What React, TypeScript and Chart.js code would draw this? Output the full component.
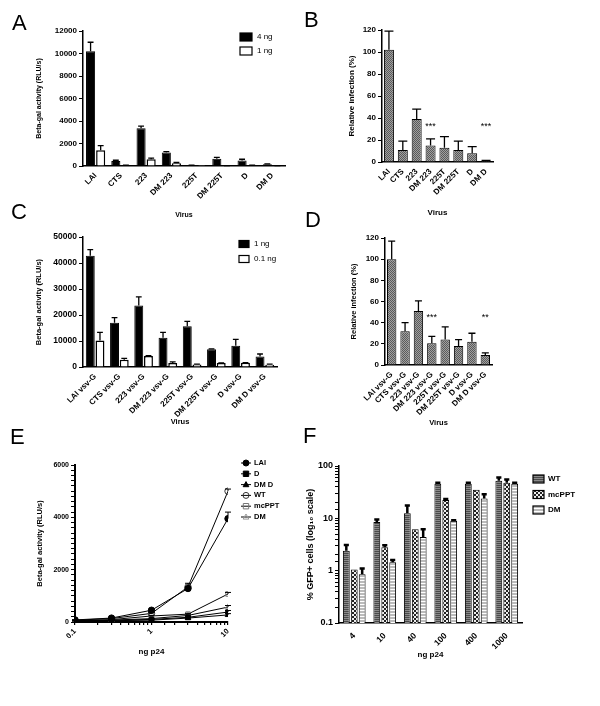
import React, { useEffect, useRef } from 'react';
import { Chart, registerables } from 'chart.js';

Chart.register(...registerables);

const FF = '"Liberation Sans", Arial, Helvetica, sans-serif';

// ---------------- DATA ----------------
const virusLabels = ['LAI', 'CTS', '223', 'DM 223', '225T', 'DM 225T', 'D', 'DM D'];
const virusVsvLabels = ['LAI vsv-G', 'CTS vsv-G', '223 vsv-G', 'DM 223 vsv-G', '225T vsv-G', 'DM 225T vsv-G', 'D vsv-G', 'DM D vsv-G'];

// Panel A: Beta-gal activity, 4 ng / 1 ng
const aSeries4ng = [10200, 450, 3350, 1200, 50, 650, 500, 150];
const aErr4ng = [800, 60, 200, 80, 20, 120, 100, 40];
const aSeries1ng = [1400, 50, 600, 250, 5, 20, 50, 30];
const aErr1ng = [420, 20, 100, 60, 0, 10, 20, 10];
const aYAxis = [0, 12000, 2000];

// Panel B: relative infection
const bRelative = [102, 11, 39, 15, 13, 11, 8, 1];
const bRelErr = [17, 8, 9, 6, 10, 8, 6, 0.5];
const bStars = ['', '', '', '***', '', '', '', '***'];
const bStarLevel = 32;
const bYAxis = [0, 120, 20];

// Panel C: Beta-gal activity vsv-G, 1 ng / 0.1 ng
const cSeries1ng = [42800, 17000, 23700, 11300, 15700, 6800, 8200, 4000];
const cErr1ng = [2400, 2000, 3300, 2000, 1900, 200, 2400, 1000];
const cSeries01ng = [10200, 2800, 4200, 1500, 1000, 1500, 1600, 900];
const cErr01ng = [3100, 500, 200, 500, 100, 100, 100, 200];
const cYAxis = [0, 50000, 10000];

// Panel D: relative infection vsv-G
const dRelative = [100, 32, 51, 20.5, 24, 18, 22, 9.5];
const dRelErr = [17, 8, 9.5, 6.5, 12, 6, 8, 2];
const dStars = ['', '', '', '***', '', '', '', '**'];
const dStarLevel = 45;
const dYAxis = [0, 120, 20];

// Panel E: dose response (ng p24)
const eDoses = [0.1, 0.3, 1, 3, 10];
const eLAI = [80, 150, 450, 1280, 3950];
const eLAIErr = [10, 15, 40, 60, 250];
const eD = [40, 60, 100, 180, 380];
const eDErr = [5, 5, 10, 20, 60];
const eDMD = [30, 50, 70, 150, 270];
const eDMDErr = [5, 5, 10, 15, 50];
const eWT = [70, 130, 330, 1340, 5000];
const eWTErr = [10, 10, 30, 140, 80];
const eMcPPT = [50, 90, 230, 300, 1070];
const eMcPPTErr = [5, 10, 20, 30, 60];
const eDM = [40, 70, 130, 250, 570];
const eDMErr = [5, 5, 10, 20, 60];
const eYAxis = [0, 6000, 200, 2000];
const eXAxis = [0.1, 10];

// Panel F: % GFP+ cells
const fDoseLabels = ['4', '10', '40', '100', '400', '1000'];
const fWT = [2.4, 8.5, 12.5, 46, 46, 52];
const fWTErr = [0.7, 1.0, 5, 2, 2, 8];
const fMcPPT = [1.05, 2.8, 6.2, 22.5, 35, 48];
const fMcPPTErr = [0, 0.25, 0, 1, 0, 7];
const fDM = [0.85, 1.45, 4.4, 9, 24, 46];
const fDMErr = [0.25, 0.15, 1.8, 0.2, 5, 2];
const fYAxis = [0.1, 100];

// ---------------- HELPERS ----------------
type Geo = { left: number; top: number; w: number; h: number; l: number; r: number; t: number; b: number; yTitleX: number; xTitleY: number };

const geoA: Geo = { left: 0, top: 0, w: 300, h: 230, l: 83, r: 285, t: 31, b: 166, yTitleX: 39, xTitleY: 215 };
const geoB: Geo = { left: 300, top: 0, w: 300, h: 230, l: 382, r: 493, t: 30, b: 162, yTitleX: 352, xTitleY: 213 };
const geoC: Geo = { left: 0, top: 230, w: 300, h: 210, l: 83, r: 277, t: 237, b: 367, yTitleX: 39, xTitleY: 422 };
const geoD: Geo = { left: 300, top: 230, w: 300, h: 210, l: 385, r: 492, t: 238, b: 365, yTitleX: 354, xTitleY: 423 };
const geoE: Geo = { left: 0, top: 440, w: 300, h: 266, l: 75, r: 228, t: 465, b: 622, yTitleX: 40, xTitleY: 652 };
const geoF: Geo = { left: 300, top: 440, w: 300, h: 266, l: 339, r: 522, t: 466, b: 623, yTitleX: 311, xTitleY: 655 };

function makePattern(rows: string[][]): any {
  const h = rows.length;
  const w = rows[0].length;
  const c = document.createElement('canvas');
  c.width = w;
  c.height = h;
  const g = c.getContext('2d')!;
  rows.forEach((row, y) => row.forEach((col, x) => { g.fillStyle = col; g.fillRect(x, y, 1, 1); }));
  return g.createPattern(c, 'repeat');
}

function font(size: number, bold = true) {
  return { family: FF, size, weight: bold ? 'bold' : 'normal' } as any;
}

function isPow10(v: number) {
  const l = Math.log10(v);
  return Math.abs(l - Math.round(l)) < 1e-6;
}

function baseOptions(g: Geo, scales: any) {
  return {
    responsive: false,
    animation: false,
    layout: { padding: { left: 0, top: g.t - g.top, right: g.left + g.w - g.r, bottom: 0 } },
    plugins: { legend: { display: false }, tooltip: { enabled: false } },
    scales,
  };
}

function xAxis(g: Geo, title: string, tickSize: number, titleSize: number, extra: any = {}, ticksExtra: any = {}, borderW = 1.5) {
  return {
    grid: { display: false },
    border: { display: true, color: '#000', width: borderW },
    ticks: { color: '#000', font: font(tickSize), minRotation: 45, maxRotation: 45, autoSkip: false, padding: -3, ...ticksExtra },
    title: {
      display: true, text: title, color: '#000', font: font(titleSize),
      padding: { top: 0, bottom: g.top + g.h - g.xTitleY - titleSize * 0.6 },
    },
    afterFit: (s: any) => { s.height = g.top + g.h - g.b; },
    ...extra,
  };
}

function yAxis(g: Geo, title: string, tickSize: number, titleSize: number, extra: any = {}, ticksExtra: any = {}, borderW = 1.5) {
  return {
    grid: { display: true, drawOnChartArea: false, drawTicks: true, tickLength: 4, color: '#000', lineWidth: 1 },
    border: { display: true, color: '#000', width: borderW },
    ticks: { color: '#000', font: font(tickSize), padding: 2, autoSkip: false, ...ticksExtra },
    title: {
      display: true, text: title, color: '#000', font: font(titleSize),
      padding: { top: g.yTitleX - g.left - titleSize * 0.6, bottom: 0 },
    },
    afterFit: (s: any) => { s.width = g.l - g.left; },
    ...extra,
  };
}

const errorBarPlugin = {
  id: 'errorBars',
  afterDatasetsDraw(chart: any) {
    const ctx = chart.ctx;
    chart.data.datasets.forEach((ds: any, di: number) => {
      if (!ds.errUp) return;
      const meta = chart.getDatasetMeta(di);
      const yScale = chart.scales[meta.yAxisID];
      ctx.save();
      ctx.strokeStyle = '#000';
      ctx.lineWidth = ds.errWidth || 1.3;
      meta.data.forEach((el: any, i: number) => {
        const e = ds.errUp[i];
        if (!e) return;
        const raw = ds.data[i];
        const v = typeof raw === 'number' ? raw : raw.y;
        const y0 = yScale.getPixelForValue(v);
        const y1 = yScale.getPixelForValue(v + e);
        const x = el.x;
        const cw = el.width ? el.width * (ds.capRatio || 0.7) : (ds.capPx || 6);
        ctx.beginPath();
        ctx.moveTo(x, y0);
        ctx.lineTo(x, y1);
        ctx.moveTo(x - cw / 2, y1);
        ctx.lineTo(x + cw / 2, y1);
        ctx.stroke();
      });
      ctx.restore();
    });
  },
};

function starsPlugin(stars: string[], level: number) {
  return {
    id: 'stars',
    afterDatasetsDraw(chart: any) {
      const ctx = chart.ctx;
      const meta = chart.getDatasetMeta(0);
      const y = chart.scales.y.getPixelForValue(level);
      ctx.save();
      ctx.font = `9px ${FF}`;
      ctx.fillStyle = '#000';
      ctx.textAlign = 'center';
      ctx.textBaseline = 'middle';
      stars.forEach((s, i) => { if (s) ctx.fillText(s, meta.data[i].x, y); });
      ctx.restore();
    },
  };
}

function drawMarker(ctx: CanvasRenderingContext2D, style: string, x: number, y: number, r: number, fill: any, stroke: any) {
  ctx.beginPath();
  if (style === 'circle') {
    ctx.arc(x, y, r, 0, Math.PI * 2);
  } else if (style === 'rect') {
    const s = r * 0.9;
    ctx.rect(x - s, y - s, 2 * s, 2 * s);
  } else {
    ctx.moveTo(x, y - r);
    ctx.lineTo(x + r * 0.95, y + r * 0.7);
    ctx.lineTo(x - r * 0.95, y + r * 0.7);
    ctx.closePath();
  }
  if (fill && fill !== 'transparent') { ctx.fillStyle = fill; ctx.fill(); }
  ctx.strokeStyle = stroke;
  ctx.lineWidth = 1;
  ctx.stroke();
}

function legendPlugin(cfg: { x: number; y: number; gap: number; kind: 'box' | 'line'; boxW?: number; boxH?: number; size: number; bold: boolean; textGap: number }) {
  return {
    id: 'customLegend',
    afterDraw(chart: any) {
      const ctx = chart.ctx;
      ctx.save();
      ctx.textBaseline = 'middle';
      chart.data.datasets.forEach((ds: any, i: number) => {
        const y = cfg.y + i * cfg.gap;
        let tx = cfg.x;
        if (cfg.kind === 'box') {
          const bw = cfg.boxW || 10;
          const bh = cfg.boxH || 8;
          ctx.fillStyle = ds.backgroundColor;
          ctx.fillRect(cfg.x, y - bh / 2, bw, bh);
          ctx.strokeStyle = '#000';
          ctx.lineWidth = 1.2;
          ctx.strokeRect(cfg.x, y - bh / 2, bw, bh);
          tx = cfg.x + bw + cfg.textGap;
        } else {
          ctx.strokeStyle = '#000';
          ctx.lineWidth = 1;
          ctx.beginPath();
          ctx.moveTo(cfg.x, y);
          ctx.lineTo(cfg.x + 10, y);
          ctx.stroke();
          drawMarker(ctx, ds.pointStyle, cfg.x + 5, y, 3, ds.pointBackgroundColor, ds.pointBorderColor);
          tx = cfg.x + 10 + cfg.textGap;
        }
        ctx.fillStyle = '#000';
        ctx.font = `${cfg.bold ? 'bold ' : ''}${cfg.size}px ${FF}`;
        ctx.fillText(ds.label, tx, y);
      });
      ctx.restore();
    },
  };
}

const plainTick = (v: any) => String(v);

// ---------------- CONFIGS ----------------
function configA() {
  return {
    type: 'bar',
    data: {
      labels: virusLabels,
      datasets: [
        { label: '4 ng', data: aSeries4ng, errUp: aErr4ng, backgroundColor: '#000', borderColor: '#000', borderWidth: 1, categoryPercentage: 0.8, barPercentage: 0.9, capRatio: 0.65 },
        { label: '1 ng', data: aSeries1ng, errUp: aErr1ng, backgroundColor: '#fff', borderColor: '#000', borderWidth: 1.5, categoryPercentage: 0.8, barPercentage: 0.9, capRatio: 0.65 },
      ],
    },
    options: baseOptions(geoA, {
      x: xAxis(geoA, 'Virus', 8, 7),
      y: yAxis(geoA, 'Beta-gal activity (RLU/s)', 8, 7, { min: aYAxis[0], max: aYAxis[1] }, { stepSize: aYAxis[2], callback: plainTick }),
    }),
    plugins: [errorBarPlugin, legendPlugin({ x: 240, y: 37, gap: 14, kind: 'box', boxW: 12, boxH: 8, size: 8, bold: false, textGap: 5 })],
  };
}

function checker() {
  return makePattern([
    ['#5a5a5a', '#a0a0a0'],
    ['#a0a0a0', '#5a5a5a'],
  ]);
}

function configB() {
  return {
    type: 'bar',
    data: {
      labels: virusLabels,
      datasets: [
        { label: 'Relative infection', data: bRelative, errUp: bRelErr, backgroundColor: checker(), borderColor: '#000', borderWidth: 1, categoryPercentage: 1, barPercentage: 0.72, capRatio: 0.9 },
      ],
    },
    options: baseOptions(geoB, {
      x: xAxis(geoB, 'Virus', 8, 8),
      y: yAxis(geoB, 'Relative infection (%)', 8, 8, { min: bYAxis[0], max: bYAxis[1] }, { stepSize: bYAxis[2], callback: plainTick }),
    }),
    plugins: [errorBarPlugin, starsPlugin(bStars, bStarLevel)],
  };
}

function configC() {
  return {
    type: 'bar',
    data: {
      labels: virusVsvLabels,
      datasets: [
        { label: '1 ng', data: cSeries1ng, errUp: cErr1ng, backgroundColor: '#000', borderColor: '#000', borderWidth: 1, categoryPercentage: 0.8, barPercentage: 0.92, capRatio: 0.65 },
        { label: '0.1 ng', data: cSeries01ng, errUp: cErr01ng, backgroundColor: '#fff', borderColor: '#000', borderWidth: 1.5, categoryPercentage: 0.8, barPercentage: 0.92, capRatio: 0.65 },
      ],
    },
    options: baseOptions(geoC, {
      x: xAxis(geoC, 'Virus', 8, 7.5),
      y: yAxis(geoC, 'Beta-gal activity (RLU/s)', 8.5, 7.5, { min: cYAxis[0], max: cYAxis[1] }, { stepSize: cYAxis[2], callback: plainTick }),
    }),
    plugins: [errorBarPlugin, legendPlugin({ x: 239, y: 14, gap: 15, kind: 'box', boxW: 10, boxH: 7, size: 8, bold: false, textGap: 5 })],
  };
}

function configD() {
  return {
    type: 'bar',
    data: {
      labels: virusVsvLabels,
      datasets: [
        { label: 'Relative infection', data: dRelative, errUp: dRelErr, backgroundColor: checker(), borderColor: '#000', borderWidth: 1, categoryPercentage: 1, barPercentage: 0.7, capRatio: 0.75 },
      ],
    },
    options: baseOptions(geoD, {
      x: xAxis(geoD, 'Virus', 8, 7.5),
      y: yAxis(geoD, 'Relative infection (%)', 8, 7.5, { min: dYAxis[0], max: dYAxis[1] }, { stepSize: dYAxis[2], callback: plainTick }),
    }),
    plugins: [errorBarPlugin, starsPlugin(dStars, dStarLevel)],
  };
}

function lineSet(label: string, ys: number[], errs: number[], style: string, fill: string, stroke: string) {
  return {
    label,
    data: eDoses.map((x, i) => ({ x, y: ys[i] })),
    errUp: errs,
    capPx: 6,
    errWidth: 1,
    borderColor: '#000',
    borderWidth: 1,
    tension: 0,
    pointStyle: style,
    pointRadius: 3.2,
    pointBackgroundColor: fill,
    pointBorderColor: stroke,
    pointBorderWidth: 1,
  };
}

function configE() {
  return {
    type: 'line',
    data: {
      datasets: [
        lineSet('LAI', eLAI, eLAIErr, 'circle', '#000', '#000'),
        lineSet('D', eD, eDErr, 'rect', '#000', '#000'),
        lineSet('DM D', eDMD, eDMDErr, 'triangle', '#000', '#000'),
        lineSet('WT', eWT, eWTErr, 'circle', 'transparent', '#333'),
        lineSet('mcPPT', eMcPPT, eMcPPTErr, 'rect', 'transparent', '#777'),
        lineSet('DM', eDM, eDMErr, 'triangle', 'transparent', '#999'),
      ],
    },
    options: baseOptions(geoE, {
      x: {
        ...xAxis(geoE, 'ng p24', 7.5, 8, { type: 'logarithmic', min: eXAxis[0], max: eXAxis[1] }, { padding: 2, callback: (v: number) => (isPow10(v) ? String(v) : '') }, 2),
        grid: { display: true, drawOnChartArea: false, drawTicks: true, tickLength: 3, color: '#000', lineWidth: 1.2 },
      },
      y: yAxis(geoE, 'Beta-gal activity (RLU/s)', 7, 7.5, { min: eYAxis[0], max: eYAxis[1] }, { stepSize: eYAxis[2], callback: (v: number) => (v % eYAxis[3] === 0 ? String(v) : '') }, 2),
    }),
    plugins: [errorBarPlugin, legendPlugin({ x: 241, y: 23, gap: 10.8, kind: 'line', size: 7.5, bold: true, textGap: 3 })],
  };
}

function configF() {
  const wtPat = makePattern([
    ['#8a8a8a', '#8a8a8a'],
    ['#4a4a4a', '#4a4a4a'],
  ]);
  const mcPat = makePattern([
    ['#222', '#222', '#eee', '#eee'],
    ['#222', '#222', '#eee', '#eee'],
    ['#eee', '#eee', '#222', '#222'],
    ['#eee', '#eee', '#222', '#222'],
  ]);
  const dmPat = makePattern([
    ['#bbb', '#bbb'],
    ['#bbb', '#bbb'],
    ['#fff', '#fff'],
  ]);
  const common = { borderColor: '#000', borderWidth: 1, categoryPercentage: 0.78, barPercentage: 0.86, capRatio: 0.75, errWidth: 2.5 };
  return {
    type: 'bar',
    data: {
      labels: fDoseLabels,
      datasets: [
        { label: 'WT', data: fWT, errUp: fWTErr, backgroundColor: wtPat, ...common },
        { label: 'mcPPT', data: fMcPPT, errUp: fMcPPTErr, backgroundColor: mcPat, ...common },
        { label: 'DM', data: fDM, errUp: fDMErr, backgroundColor: dmPat, ...common },
      ],
    },
    options: baseOptions(geoF, {
      x: xAxis(geoF, 'ng p24', 8.5, 8, {}, { padding: 0 }),
      y: yAxis(geoF, '% GFP+ cells (log\u2081\u2080 scale)', 9, 9, { type: 'logarithmic', min: fYAxis[0], max: fYAxis[1] }, { callback: (v: number) => (isPow10(v) ? String(v) : '') }),
    }),
    plugins: [errorBarPlugin, legendPlugin({ x: 233, y: 39, gap: 15.5, kind: 'box', boxW: 11, boxH: 8, size: 8, bold: true, textGap: 4 })],
  };
}

// ---------------- COMPONENTS ----------------
function Panel({ geo, make }: { geo: Geo; make: () => any }) {
  const ref = useRef<HTMLCanvasElement>(null);
  useEffect(() => {
    const chart = new Chart(ref.current as HTMLCanvasElement, make());
    return () => chart.destroy();
  }, []);
  return (
    <canvas
      ref={ref}
      width={geo.w}
      height={geo.h}
      style={{ position: 'absolute', left: geo.left, top: geo.top, width: geo.w, height: geo.h }}
    />
  );
}

const panelLetters = [
  { t: 'A', x: 12, y: 12 },
  { t: 'B', x: 304, y: 9 },
  { t: 'C', x: 11, y: 201 },
  { t: 'D', x: 305, y: 209 },
  { t: 'E', x: 10, y: 426 },
  { t: 'F', x: 303, y: 425 },
];

export default function App() {
  return (
    <div style={{ position: 'absolute', left: 0, top: 0, width: 600, height: 706, background: '#fff', overflow: 'hidden' }}>
      <Panel geo={geoA} make={configA} />
      <Panel geo={geoB} make={configB} />
      <Panel geo={geoC} make={configC} />
      <Panel geo={geoD} make={configD} />
      <Panel geo={geoE} make={configE} />
      <Panel geo={geoF} make={configF} />
      {panelLetters.map((p) => (
        <div
          key={p.t}
          style={{ position: 'absolute', left: p.x, top: p.y, fontFamily: FF, fontSize: 22, lineHeight: 1, color: '#000' }}
        >
          {p.t}
        </div>
      ))}
    </div>
  );
}
